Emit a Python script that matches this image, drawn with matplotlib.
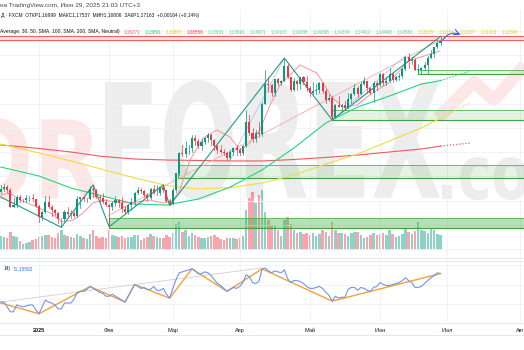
import numpy as np
import matplotlib
matplotlib.use("Agg")
import matplotlib.pyplot as plt
from matplotlib.textpath import TextPath
from matplotlib.patches import PathPatch, Rectangle
from matplotlib.font_manager import FontProperties
from matplotlib.transforms import Affine2D

# EURUSD daily bars, Dec 13 2024 .. Jun 27 2025 (bar 0 = Jan 2)
opens = [1.0470, 1.0500, 1.0515, 1.0490, 1.0350, 1.0365, 1.0430, 1.0405, 1.0405, 1.0420, 1.0425, 1.0410,
         1.0355, 1.0265, 1.0310, 1.0390, 1.0345, 1.0320, 1.0300, 1.0245, 1.0245, 1.0310, 1.0290, 1.0300,
         1.0270, 1.0415, 1.0430, 1.0410, 1.0415, 1.0495, 1.0490, 1.0430, 1.0420, 1.0390,
         1.0360, 1.0345, 1.0380, 1.0405, 1.0380, 1.0330, 1.0310, 1.0360, 1.0385, 1.0465, 1.0490, 1.0480,
         1.0450, 1.0420, 1.0500, 1.0460, 1.0465, 1.0510, 1.0485, 1.0400,
         1.0375, 1.0485, 1.0625, 1.0790, 1.0785, 1.0835, 1.0835, 1.0920, 1.0890, 1.0850, 1.0880, 1.0920,
         1.0940, 1.0900, 1.0850, 1.0815, 1.0800, 1.0790, 1.0755, 1.0800, 1.0830,
         1.0815, 1.0790, 1.0850, 1.1050, 1.0960, 1.0910, 1.0955, 1.0950, 1.1200, 1.1360, 1.1350, 1.1285,
         1.1400, 1.1370, 1.1390, 1.1510, 1.1420, 1.1310, 1.1390, 1.1365, 1.1420, 1.1380,
         1.1330, 1.1290, 1.1300, 1.1315, 1.1370, 1.1300, 1.1230, 1.1250, 1.1090, 1.1190, 1.1175, 1.1190,
         1.1165, 1.1240, 1.1280, 1.1330, 1.1280, 1.1365, 1.1385, 1.1325, 1.1290, 1.1370,
         1.1350, 1.1440, 1.1370, 1.1390, 1.1445, 1.1395, 1.1420, 1.1425, 1.1485, 1.1585, 1.1550, 1.1560,
         1.1480, 1.1480, 1.1495, 1.1520, 1.1580, 1.1610, 1.1665, 1.16999]
highs = [1.0525, 1.0535, 1.0525, 1.0505, 1.0420, 1.0445, 1.0445, 1.0415, 1.0445, 1.0440, 1.0455, 1.0415,
         1.0365, 1.0315, 1.0435, 1.0435, 1.0360, 1.0330, 1.0310, 1.0260, 1.0320, 1.0350, 1.0320, 1.0315,
         1.0435, 1.0430, 1.0440, 1.0425, 1.0520, 1.0530, 1.0495, 1.0445, 1.0465, 1.0410,
         1.0375, 1.0400, 1.0440, 1.0410, 1.0430, 1.0355, 1.0375, 1.0420, 1.0470, 1.0515, 1.0505, 1.0485,
         1.0460, 1.0505, 1.0530, 1.0530, 1.0515, 1.0530, 1.0490, 1.0415,
         1.0505, 1.0630, 1.0800, 1.0855, 1.0890, 1.0855, 1.0945, 1.0945, 1.0905, 1.0905, 1.0925, 1.0955,
         1.0950, 1.0905, 1.0860, 1.0860, 1.0825, 1.0800, 1.0815, 1.0845, 1.0855,
         1.0830, 1.0860, 1.1145, 1.1105, 1.1000, 1.0980, 1.1045, 1.1210, 1.1475, 1.1420, 1.1360, 1.1405,
         1.1415, 1.1395, 1.1575, 1.1525, 1.1420, 1.1410, 1.1395, 1.1420, 1.1425, 1.1425,
         1.1345, 1.1380, 1.1365, 1.1380, 1.1380, 1.1320, 1.1275, 1.1265, 1.1195, 1.1265, 1.1200, 1.1225,
         1.1285, 1.1285, 1.1365, 1.1345, 1.1375, 1.1420, 1.1390, 1.1340, 1.1385, 1.1385,
         1.1455, 1.1455, 1.1420, 1.1495, 1.1455, 1.1430, 1.1450, 1.1495, 1.1595, 1.1615, 1.1585, 1.1580,
         1.1530, 1.1505, 1.1540, 1.1590, 1.1640, 1.1665, 1.1720, 1.17537]
lows = [1.0465, 1.0480, 1.0470, 1.0345, 1.0345, 1.0345, 1.0390, 1.0385, 1.0385, 1.0400, 1.0395, 1.0350,
        1.0225, 1.0240, 1.0300, 1.0340, 1.0275, 1.0285, 1.0215, 1.0180, 1.0230, 1.0270, 1.0260, 1.0265,
        1.0265, 1.0340, 1.0395, 1.0385, 1.0410, 1.0430, 1.0420, 1.0390, 1.0380, 1.0355,
        1.0185, 1.0320, 1.0355, 1.0345, 1.0305, 1.0290, 1.0290, 1.0320, 1.0365, 1.0455, 1.0460, 1.0430,
        1.0400, 1.0410, 1.0455, 1.0450, 1.0445, 1.0475, 1.0390, 1.0360,
        1.0370, 1.0470, 1.0610, 1.0765, 1.0760, 1.0785, 1.0805, 1.0860, 1.0830, 1.0820, 1.0865, 1.0885,
        1.0860, 1.0820, 1.0795, 1.0795, 1.0780, 1.0735, 1.0745, 1.0775, 1.0780,
        1.0775, 1.0780, 1.0845, 1.0945, 1.0880, 1.0880, 1.0925, 1.0935, 1.1195, 1.1295, 1.1265, 1.1265,
        1.1350, 1.1355, 1.1385, 1.1410, 1.1300, 1.1300, 1.1315, 1.1320, 1.1365, 1.1300,
        1.1265, 1.1275, 1.1280, 1.1290, 1.1290, 1.1205, 1.1220, 1.1065, 1.1085, 1.1170, 1.1130, 1.1150,
        1.1160, 1.1205, 1.1270, 1.1255, 1.1275, 1.1355, 1.1285, 1.1280, 1.1210, 1.1315,
        1.1345, 1.1355, 1.1355, 1.1375, 1.1375, 1.1385, 1.1395, 1.1410, 1.1475, 1.1490, 1.1525, 1.1475,
        1.1460, 1.1445, 1.1480, 1.1450, 1.1575, 1.1585, 1.1655, 1.16806]
closes = [1.0500, 1.0515, 1.0490, 1.0350, 1.0365, 1.0430, 1.0405, 1.0405, 1.0420, 1.0425, 1.0410, 1.0355,
          1.0265, 1.0310, 1.0390, 1.0345, 1.0320, 1.0300, 1.0245, 1.0245, 1.0310, 1.0290, 1.0300, 1.0270,
          1.0415, 1.0430, 1.0410, 1.0415, 1.0495, 1.0490, 1.0430, 1.0420, 1.0390, 1.0360,
          1.0345, 1.0380, 1.0405, 1.0380, 1.0330, 1.0310, 1.0360, 1.0385, 1.0465, 1.0490, 1.0480, 1.0450,
          1.0420, 1.0500, 1.0460, 1.0465, 1.0510, 1.0485, 1.0400, 1.0375,
          1.0485, 1.0625, 1.0790, 1.0785, 1.0835, 1.0835, 1.0920, 1.0890, 1.0850, 1.0880, 1.0920, 1.0940,
          1.0900, 1.0850, 1.0815, 1.0800, 1.0790, 1.0755, 1.0800, 1.0830, 1.0815,
          1.0790, 1.0850, 1.1050, 1.0960, 1.0910, 1.0955, 1.0950, 1.1200, 1.1360, 1.1350, 1.1285, 1.1400,
          1.1370, 1.1390, 1.1510, 1.1420, 1.1310, 1.1390, 1.1365, 1.1420, 1.1380, 1.1330,
          1.1290, 1.1300, 1.1315, 1.1370, 1.1300, 1.1230, 1.1250, 1.1090, 1.1190, 1.1175, 1.1190, 1.1165,
          1.1240, 1.1280, 1.1330, 1.1280, 1.1365, 1.1385, 1.1325, 1.1290, 1.1370, 1.1350,
          1.1440, 1.1370, 1.1390, 1.1445, 1.1395, 1.1420, 1.1425, 1.1485, 1.1585, 1.1550, 1.1560, 1.1480,
          1.1480, 1.1495, 1.1520, 1.1580, 1.1610, 1.1665, 1.1700, 1.17163]
volumes = [14, 13, 12, 18, 14, 13, 9, 6, 7, 8, 10, 11,
           13, 14, 15, 15, 13, 12, 17, 20, 15, 14, 13, 12, 16, 14, 12, 11, 16, 20, 14, 12, 13, 12,
           20, 15, 14, 13, 14, 12, 13, 13, 15, 15, 10, 12, 13, 16, 14, 13, 12, 12, 15, 13,
           17, 26, 28, 18, 20, 14, 17, 15, 13, 12, 12, 13, 14, 15, 13, 11, 10, 12, 12, 12, 11,
           12, 14, 40, 52, 58, 47, 55, 60, 38, 30, 25, 24, 20, 14, 30, 33, 26, 20, 17, 18, 16, 17,
           15, 17, 14, 16, 20, 18, 14, 28, 20, 17, 17, 16, 14, 17, 18, 18, 15, 12, 13, 15, 17, 15,
           16, 17, 15, 20, 16, 13, 14, 16, 22, 18, 16, 19, 28, 20, 19, 17, 22, 20, 16, 15]
rsi = [42, 42, 37, 32, 32, 39, 38, 37, 38, 39, 39, 34,
       30, 37, 44, 42, 41, 39, 35, 35, 41, 41, 41, 45, 52, 53, 53, 55, 58, 56, 54, 52, 51, 48,
       48, 50, 48, 46, 44, 42, 48, 54, 60, 58, 56, 57, 55, 55, 58, 54, 54, 56, 50, 46,
       56, 65, 72, 73, 74, 75, 76, 74, 71, 71, 73, 72, 69, 65, 61, 59, 56, 53, 55, 57, 56,
       58, 62, 70, 68, 62, 61, 63, 76, 77, 74, 72, 74, 73, 72, 75, 66, 62, 64, 64, 63, 61, 58,
       56, 56, 57, 58, 56, 52, 49, 43, 48, 46, 47, 47, 55, 57, 57, 54, 57, 56, 54, 53, 57, 58,
       62, 60, 59, 59, 60, 61, 62, 64, 67, 64, 62, 57, 57, 58, 61, 64, 67, 69, 72, 71.2]
bars = np.arange(-12, -12 + len(closes))

# moving averages sampled every 10 bars
ma_idx = [-12, 0, 10, 20, 30, 40, 50, 60, 70, 80, 90, 100, 110, 120, 126]
ma50 = [1.0677, 1.0603, 1.0504, 1.0438, 1.0372, 1.0364, 1.0413, 1.0512, 1.0653, 1.0834, 1.1040,
        1.1172, 1.1263, 1.1361, 1.1390]
ma100 = [1.0867, 1.0793, 1.0727, 1.0657, 1.0587, 1.0525, 1.0496, 1.0508, 1.0545, 1.0611, 1.0702,
         1.0784, 1.0892, 1.1000, 1.1080]
ma200 = [1.0859, 1.0830, 1.0801, 1.0764, 1.0743, 1.0735, 1.0731, 1.0727, 1.0727, 1.0739, 1.0756,
         1.0776, 1.0801, 1.0826, 1.0850]
proj_idx = [126, 135.5]
ma50_proj = [1.1390, 1.1469]
ma100_proj = [1.1080, 1.1205]
ma200_proj = [1.0850, 1.0875]

fast_idx = [-12, -9.1, -6, -0.6, 3.5, 7.5, 10.7, 13.8, 16.9, 20.1, 24.5, 28.5, 34.8, 38.9, 42, 44.2,
            47.4, 51.5, 55.8, 59.9, 63.1, 66.2, 69.3, 72.5, 75.6, 81.9, 87.2, 91.9, 95.4, 99.8, 103.8,
            110.1, 115.8, 125.8]
fast_ma = [1.0446, 1.0463, 1.0405, 1.0347, 1.0298, 1.0224, 1.0240, 1.0298, 1.0380, 1.0405, 1.0389,
           1.0380, 1.0405, 1.0380, 1.0405, 1.0488, 1.0735, 1.0916, 1.0982, 1.0925, 1.0817, 1.0875,
           1.0982, 1.1188, 1.1353, 1.1518, 1.1452, 1.1254, 1.1172, 1.1188, 1.1271, 1.1378, 1.1551, 1.1634]

# zigzag / trend drawings
zz_idx = [-12, 7, 17, 22, 39, 41, 77, 92, 126]
zz_price = [1.0430, 1.0180, 1.0530, 1.0185, 1.0530, 1.0360, 1.1575, 1.1065, 1.1754]
trend_idx = [22, 126]
trend_price = [1.0280, 1.1725]
lav_idx = [[60, 77], [92, 115]]
lav_price = [[1.0735, 1.1573], [1.1065, 1.1595]]

# support zones (low, high, first bar)
zone_lo = [1.1448, 1.1061, 1.0587, 1.0178]
zone_hi = [1.1473, 1.1151, 1.0690, 1.0257]
zone_start = [119, 92, 43.5, 22]
zone_alpha = [0.15, 0.15, 0.15, 0.4]
res_lo, res_hi = 1.1728, 1.1761

rsi_zz_idx = [-12, 0, 16, 27, 30, 41, 48, 59, 70, 92, 126]
rsi_zz_val = [41, 30, 58, 42, 60, 46, 76, 53, 76, 43, 71.2]
rsi_tl_idx = [-12, 70]
rsi_tl_val = [42, 77]

month_ticks = [0, 22, 42, 63, 85, 107, 128, 151]
month_labels = ["2025", "Фев", "Мар", "Апр", "Май", "Июн", "Июл", "Авг"]

legend_vals = ["1,16271", "1,13891", "1,10887", "1,08558", "1,13931", "1,13991", "1,14071",
               "1,14137", "1,14208", "1,14268", "1,14334", "1,14412", "1,14498", "1,14581",
               "1,11038", "1,11164", "1,11297", "1,11423", "1,11546"]

UP, DOWN = "#089981", "#f23645"
GRID = "#eef1f6"
W, H = 524, 350
X0, X1 = -12.24, 152.2

fig = plt.figure(figsize=(W / 100, H / 100), dpi=100)
fig.patch.set_facecolor("white")


def px_axes(top, bottom, z):
    a = fig.add_axes([0, 1 - bottom / H, 1, (bottom - top) / H])
    a.set_zorder(z)
    a.patch.set_alpha(0)
    return a


# background layer in pixel units for the watermark and pane borders
bg = fig.add_axes([0, 0, 1, 1])
bg.set_xlim(0, W)
bg.set_ylim(H, 0)
bg.axis("off")
bg.set_zorder(0)

fp = FontProperties(family="DejaVu Sans", weight="bold")


def stretched(s, x0, x1, ytop, ybase, color):
    tp = TextPath((0, 0), s, size=100, prop=fp)
    bb = tp.get_extents()
    tr = (Affine2D().translate(-bb.x0, -bb.y0)
          .scale((x1 - x0) / bb.width, -(ybase - ytop) / bb.height)
          .translate(x0, ybase))
    bg.add_patch(PathPatch(tr.transform_path(tp), fc=color, ec="none"))


stretched("OR", -38, 100, 118, 200, "#fde6e6")
stretched("FOREX", 105, 440, 80, 200, "#ededed")
stretched(".com", 442, 585, 157, 200, "#ededed")
bg.plot([438, 474, 494, 540], [118, 82, 100, 48], color="#fde6e6", lw=9, solid_capstyle="butt")
for yy in (258, 261, 323, 335):
    bg.axhline(yy, color="#e0e3eb", lw=0.6)

# volume pane (1 unit = 1 px)
axv = px_axes(150, 250, 1)
axv.set_xlim(X0, X1)
axv.set_ylim(0, 100)
axv.axis("off")
vcol = [UP if c >= o else DOWN for o, c in zip(opens, closes)]
axv.bar(bars, volumes, width=0.78, color=vcol, alpha=0.45, lw=0)

# price pane
ax = px_axes(10, 257, 2)
ax.set_xlim(X0, X1)
ax.set_ylim(0.99353, 1.19716)
ax.axis("off")
for lvl in np.arange(1.00, 1.19, 0.02):
    ax.axhline(lvl, color=GRID, lw=0.6, zorder=0)
for t in month_ticks:
    ax.axvline(t, color=GRID, lw=0.6, zorder=0)

for lo, hi, st, al in zip(zone_lo, zone_hi, zone_start, zone_alpha):
    ax.add_patch(Rectangle((st, lo), X1 - st, hi - lo, fc="#4caf50", alpha=al, lw=0, zorder=1))
    ax.plot([st, X1], [hi, hi], color="#4caf50", lw=0.7, alpha=0.8, zorder=1)
    ax.plot([st, X1], [lo, lo], color="#43a047", lw=0.8, zorder=1)
    ax.plot([st, st], [lo, hi], color="#43a047", lw=0.7, zorder=1)
ax.add_patch(Rectangle((X0, res_lo), X1 - X0, res_hi - res_lo, fc="#f8c4c4", alpha=0.5, lw=0, zorder=1))
ax.axhline(res_lo, color="#f06060", lw=0.8, zorder=1)
ax.axhline(res_hi, color="#f06060", lw=0.8, zorder=1)

ax.plot(ma_idx, ma200, color="#f0595c", lw=0.8, zorder=2)
ax.plot(ma_idx, ma100, color="#f2dc3c", lw=0.8, zorder=2)
ax.plot(ma_idx, ma50, color="#22d67a", lw=0.8, zorder=2)
ax.plot(proj_idx, ma200_proj, color="#f0595c", lw=0.9, ls=(0, (1, 1.5)), zorder=2)
ax.plot(proj_idx, ma100_proj, color="#f2dc3c", lw=0.9, ls=(0, (1, 1.5)), zorder=2)
ax.plot(proj_idx, ma50_proj, color="#22d67a", lw=0.9, ls=(0, (1, 1.5)), zorder=2)
ax.plot(fast_idx, fast_ma, color="#f58a8c", lw=0.7, alpha=0.9, zorder=2)
ax.plot(trend_idx, trend_price, color="#f7a8a8", lw=0.6, zorder=2)
for xi, yi in zip(lav_idx, lav_price):
    ax.plot(xi, yi, color="#b8b6ee", lw=0.5, zorder=2)
ax.plot(zz_idx, zz_price, color="#1e9e86", lw=0.8, zorder=3)

# candles
for i, o, h, l, c in zip(bars, opens, highs, lows, closes):
    col = UP if c >= o else DOWN
    ax.plot([i, i], [l, h], color=col, lw=0.5, zorder=4)
    ax.add_patch(Rectangle((i - 0.32, min(o, c)), 0.64, max(abs(c - o), 0.0003),
                           fc=col, ec="none", zorder=5))

# forecast squiggle
ax.annotate("", xy=(132.3, 1.1768), xytext=(126.7, 1.1724),
            arrowprops=dict(arrowstyle="->", color="#2962ff", lw=0.8,
                            connectionstyle="arc3,rad=-0.4", shrinkA=0, shrinkB=0), zorder=6)

# RSI pane
axr = px_axes(260, 322, 2)
axr.set_xlim(X0, X1)
axr.set_ylim(21.54, 85.13)
for lvl in (40, 60, 80):
    axr.axhline(lvl, color=GRID, lw=0.6, zorder=0)
for t in month_ticks:
    axr.axvline(t, color=GRID, lw=0.6, zorder=0)
axr.plot(rsi_tl_idx, rsi_tl_val, color="#cfcfd6", lw=0.6, zorder=1)
axr.plot(rsi_zz_idx, rsi_zz_val, color="#f5a03a", lw=1.0, zorder=2)
axr.plot(bars, rsi, color="#6e95f2", lw=0.8, zorder=3)
for s in axr.spines.values():
    s.set_visible(False)
axr.set_yticks([])
axr.set_xticks(month_ticks)
axr.set_xticklabels(month_labels, fontsize=4.0, color="#131722", family="Liberation Sans")
axr.get_xticklabels()[0].set_fontweight("bold")
axr.tick_params(axis="x", length=0, pad=4.5)
axr.text(0.006, 0.86, "14)", transform=axr.transAxes, fontsize=3.4, color="#131722",
         family="Liberation Sans", va="center")
axr.text(0.024, 0.86, "71,15592", transform=axr.transAxes, fontsize=3.4, color="#2962ff",
         family="Liberation Sans", va="center")

# header legend lines
def ftext(x, y, s, color="#131722", size=3.3, **kw):
    fig.text(x / W, 1 - y / H, s, color=color, fontsize=size, family="Liberation Sans",
             va="center", ha="left", zorder=10, **kw)


ftext(0, 5, "на TradingView.com, Июн 29, 2025 21:03 UTC+3", color="#434651", size=4.6)
ftext(1, 16, "Д · FXCM  ОТКР1,16999  МАКС1,17537  МИН1,16806  ЗАКР1,17163  +0,00164 (+0,14%)",
      size=3.5)
ftext(0, 32, "Average, 30, 50, SMA, 100, SMA, 200, SMA, Neutral)", size=3.6)
val_colors = ["#f7525f", "#22c55e", "#e0c21a", "#f23645"] + ["#3ddc84"] * 10 + ["#e6c619"] * 5
for k, (v, vc) in enumerate(zip(legend_vals, val_colors)):
    ftext(124 + 21 * k, 32, v, color=vc)

fig.savefig("out.png", dpi=100)
